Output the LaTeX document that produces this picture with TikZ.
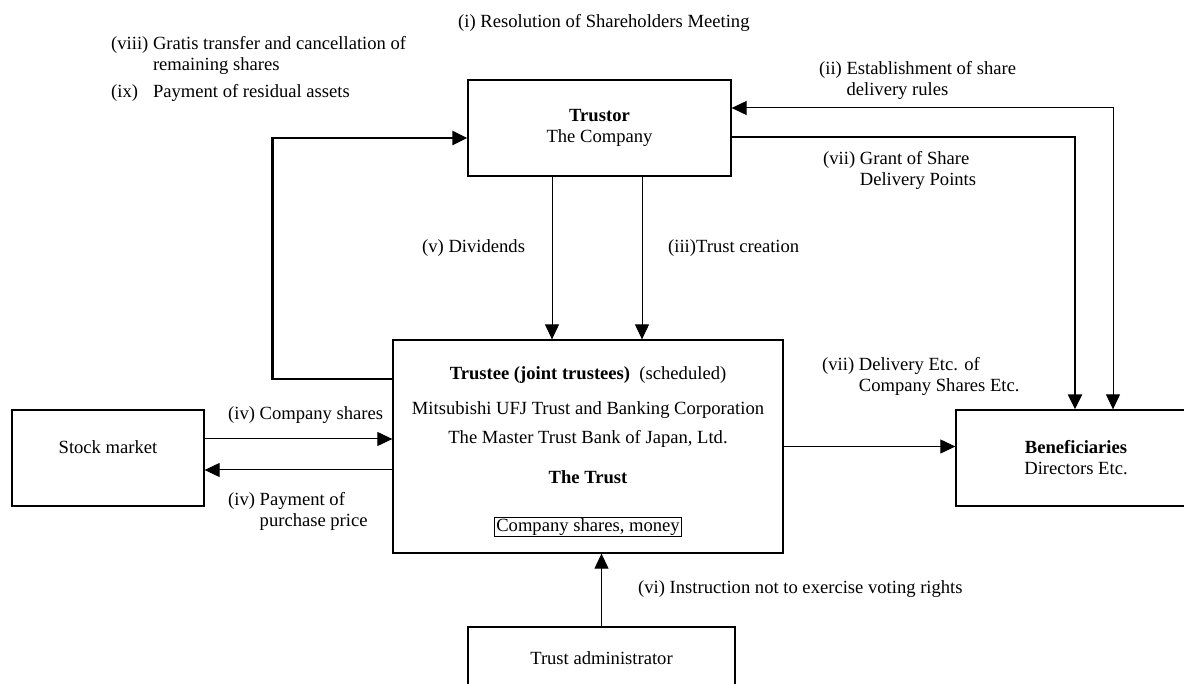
\documentclass[tikz,border=0pt]{standalone}
\usepackage{fontspec}
\setmainfont{Liberation Serif}
\usepackage{tikz}
\usetikzlibrary{shapes,arrows,arrows.meta}
\tikzstyle{block} = [rectangle, draw, line width=1.3pt, inner sep=0pt, align=center]
\tikzstyle{arrow} = [line width=1pt, -{Triangle[length=15pt,width=14pt]}]
\tikzstyle{dblarrow} = [line width=1pt, {Triangle[length=15pt,width=14pt]}-{Triangle[length=15pt,width=14pt]}]
\tikzstyle{heavyarrow} = [line width=2.3pt, -{Triangle[length=15pt,width=14pt]}]
\tikzstyle{inner} = [inner sep=0pt, text height=13pt, text depth=4pt]
\tikzstyle{note} = [inner, anchor=west]
\tikzstyle{notes} = [inner sep=0pt, anchor=north west]

\begin{document}
\begin{tikzpicture}[x=1pt, y=-1pt, font=\fontsize{18.6}{21}\selectfont]
\useasboundingbox (0,0) rectangle (1184,684);
% boxes
\node[block, minimum width=263, minimum height=96] (trustor) at (599.5,128) {\textbf{Trustor}\\The Company};
\node[block, minimum width=390, minimum height=213] (trustee) at (588,446.5) {};
\node[block, minimum width=192, minimum height=96] (market) at (108,458) {Stock market\\\mbox{}};
\node[block, minimum width=240, minimum height=96] (benef) at (1076,458) {\textbf{Beneficiaries}\\Directors Etc.};
\node[block, minimum width=267, minimum height=84] (admin) at (601.5,669) {Trust administrator\\\mbox{}};

% inside the trust
\node[inner] (trusteehead) at (588,375) {\textbf{Trustee (joint trustees)}\ \ (scheduled)};
\node[inner] (mufg) at (588,410) {Mitsubishi UFJ Trust and Banking Corporation};
\node[inner] (mtbj) at (588,439) {The Master Trust Bank of Japan, Ltd.};
\node[inner] (trustname) at (588,479) {\textbf{The Trust}};
\node[draw, line width=1.3pt, inner xsep=2pt, inner ysep=1pt] (assets) at (588,527) {Company shares, money};

% connectors
\coordinate (divout) at ([xshift=-47.5pt]trustor.south);
\coordinate (creout) at ([xshift=42.5pt]trustor.south);
\draw[arrow] (divout) -- (divout |- trustee.north);
\draw[arrow] (creout) -- (creout |- trustee.north);
\draw[arrow] (admin.north) -- (admin.north |- trustee.south);
\coordinate (buyin) at ([yshift=19pt]market.east);
\coordinate (payout) at ([yshift=-12pt]market.east);
\draw[arrow] (buyin) -- (buyin -| trustee.west);
\draw[arrow] (payout -| trustee.west) -- (payout);
\draw[arrow] (trustee.east) -- (trustee.east -| benef.west);
\coordinate (loopout) at ([yshift=67.5pt]trustee.west);
\coordinate (loopin) at ([yshift=-10pt]trustor.west);
\draw[heavyarrow] (loopout) -- +(-120,0) |- (loopin);
\coordinate (rulesin) at ([yshift=20pt]trustor.east);
\coordinate (rulesend) at ([xshift=37pt]benef.north);
\draw[dblarrow] (rulesin) -| (rulesend);
\coordinate (grantout) at ([yshift=-9pt]trustor.east);
\coordinate (grantend) at ([xshift=-1pt]benef.north);
\draw[heavyarrow] (grantout) -| (grantend);

% labels
\node[note] (resolution) at (458,23) {(i) Resolution of Shareholders Meeting};
\node[notes] (gratis) at (111,35) {\begin{tabular}{@{}l@{\ }l@{}}(viii)&Gratis transfer and cancellation of\\ &remaining shares\\[6pt] (ix)&Payment of residual assets\end{tabular}};
\node[notes] (rules) at (819,60) {\begin{tabular}{@{}l@{\ }l@{}}(ii)&Establishment of share\\ &delivery rules\end{tabular}};
\node[notes] (grant) at (823,150) {\begin{tabular}{@{}l@{\ }l@{}}(vii)&Grant of Share\\ &Delivery Points\end{tabular}};
\node[note] (dividends) at (422,248) {(v) Dividends};
\node[note] (creation) at (668,248) {(iii)Trust creation};
\node[note] (shares) at (228,415) {(iv) Company shares};
\node[notes] (payment) at (228,491) {\begin{tabular}{@{}l@{\ }l@{}}(iv)&Payment of\\ &purchase price\end{tabular}};
\node[notes] (delivery) at (822,356) {\begin{tabular}{@{}l@{\ }l@{}}(vii)&Delivery Etc. of\\ &Company Shares Etc.\end{tabular}};
\node[note] (voting) at (638,589) {(vi) Instruction not to exercise voting rights};
\end{tikzpicture}
\end{document}
